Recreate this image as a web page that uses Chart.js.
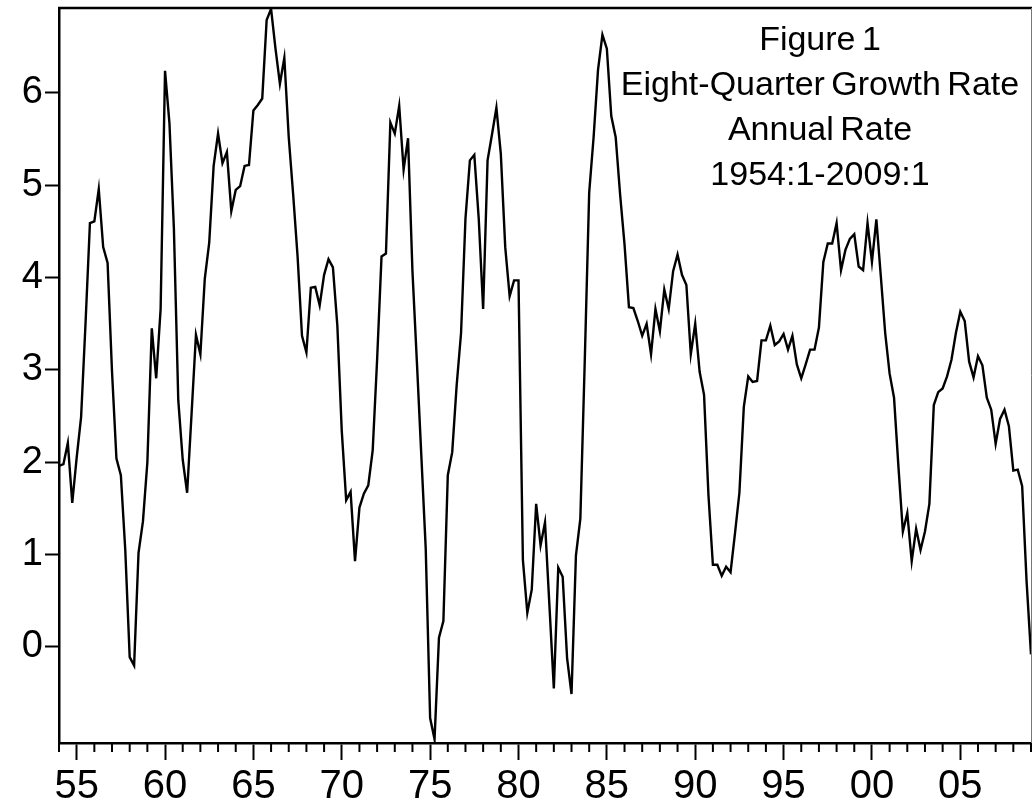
<!DOCTYPE html>
<html>
<head>
<meta charset="utf-8">
<script src="https://cdn.jsdelivr.net/npm/chart.js@4.4.0/dist/chart.umd.min.js"></script>
<style>
  html, body { margin: 0; padding: 0; background: #fff; }
  #growth_chart { display: block; }
</style>
</head>
<body>
<canvas id="growth_chart" width="1033" height="807"></canvas>
<script>
// quarterly data, 1954:1 - 2009:1 (eight-quarter growth, annual rate)
var start_year = 1954;
var growth_50s = [1.96, 1.98, 2.21, 1.56, 2.05, 2.49, 3.50, 4.59, 4.61, 4.96, 4.33, 4.16,
                  2.98, 2.04, 1.86, 1.05, -0.11, -0.20, 1.02, 1.36, 2.00, 3.45, 2.91, 3.66];
var growth_60s = [6.24, 5.67, 4.54, 2.67, 2.03, 1.67, 2.52, 3.38, 3.17, 3.99, 4.38, 5.21,
                  5.56, 5.24, 5.36, 4.72, 4.95, 4.99, 5.21, 5.22, 5.81, 5.87, 5.94, 6.79,
                  6.91, 6.48, 6.10, 6.38, 5.52, 4.90, 4.23, 3.37, 3.19, 3.89, 3.90, 3.70,
                  4.03, 4.20, 4.11, 3.48];
var growth_70s = [2.34, 1.59, 1.68, 0.93, 1.51, 1.66, 1.75, 2.13, 3.11, 4.23, 4.26, 5.68,
                  5.56, 5.86, 5.17, 5.51, 4.07, 3.09, 2.08, 1.07, -0.77, -1.00, 0.10, 0.28,
                  1.86, 2.11, 2.83, 3.40, 4.64, 5.27, 5.33, 4.64, 3.66, 5.27, 5.55, 5.84,
                  5.34, 4.33, 3.80, 3.97];
var growth_80s = [3.97, 0.94, 0.37, 0.62, 1.55, 1.10, 1.35, 0.45, -0.45, 0.86, 0.76, -0.12,
                  -0.51, 0.99, 1.39, 3.10, 4.92, 5.52, 6.25, 6.63, 6.48, 5.75, 5.52, 4.90,
                  4.36, 3.68, 3.67, 3.53, 3.37, 3.50, 3.17, 3.66, 3.42, 3.87, 3.66, 4.07,
                  4.25, 4.03, 3.92, 3.17];
var growth_90s = [3.50, 2.98, 2.73, 1.64, 0.89, 0.89, 0.77, 0.87, 0.81, 1.23, 1.67, 2.60,
                  2.93, 2.87, 2.88, 3.32, 3.32, 3.48, 3.27, 3.31, 3.39, 3.22, 3.37, 3.06,
                  2.91, 3.06, 3.22, 3.22, 3.46, 4.17, 4.37, 4.37, 4.59, 4.08, 4.30, 4.42,
                  4.47, 4.12, 4.08, 4.59];
var growth_00s = [4.17, 4.63, 4.02, 3.40, 2.96, 2.70, 1.95, 1.25, 1.45, 0.93, 1.28, 1.05,
                  1.25, 1.55, 2.62, 2.76, 2.80, 2.93, 3.11, 3.40, 3.63, 3.53, 3.09, 2.92,
                  3.15, 3.05, 2.70, 2.57, 2.20, 2.47, 2.57, 2.39, 1.91, 1.92, 1.74, 0.71,
                  -0.08];

var label_years = [1955, 1960, 1965, 1970, 1975, 1980, 1985, 1990, 1995, 2000, 2005];
var year_labels = ["55", "60", "65", "70", "75", "80", "85", "90", "95", "00", "05"];
var y_ticks = [0, 1, 2, 3, 4, 5, 6];
var title_lines = ["Figure 1", "Eight-Quarter Growth Rate", "Annual Rate", "1954:1-2009:1"];

var growth_rate = growth_50s.concat(growth_60s, growth_70s, growth_80s, growth_90s, growth_00s);
var growth_points = growth_rate.map(function(v, i) {
    return { x: start_year + i / 4, y: v };
});

var font_family = "'Liberation Sans', Arial, Helvetica, sans-serif";

// frame, minor year ticks and the text box
var frame_plugin = {
    id: "frame_plugin",
    afterDraw: function(chart) {
        var ctx = chart.ctx;
        var area = chart.chartArea;
        var xs = chart.scales.x;
        ctx.save();
        // top border
        ctx.strokeStyle = "#000";
        ctx.lineWidth = 2.5;
        ctx.beginPath();
        ctx.moveTo(area.left - 1, area.top);
        ctx.lineTo(area.right + 1, area.top);
        ctx.stroke();
        // right border
        ctx.strokeStyle = "#777";
        ctx.lineWidth = 1;
        ctx.beginPath();
        ctx.moveTo(area.right + 0.5, area.top);
        ctx.lineTo(area.right + 0.5, area.bottom);
        ctx.stroke();
        // minor ticks for every year
        ctx.strokeStyle = "#000";
        ctx.lineWidth = 2;
        for (var yr = start_year; yr <= 2009; yr++) {
            if (label_years.indexOf(yr) >= 0) continue;
            var px = xs.getPixelForValue(yr);
            ctx.beginPath();
            ctx.moveTo(px, area.bottom);
            ctx.lineTo(px, area.bottom + 9);
            ctx.stroke();
        }
        // title lines
        ctx.fillStyle = "#000";
        ctx.font = "34px " + font_family;
        ctx.wordSpacing = "-3px";
        ctx.textAlign = "center";
        ctx.textBaseline = "alphabetic";
        for (var k = 0; k < title_lines.length; k++) {
            ctx.fillText(title_lines[k], 820, 50 + k * 45);
        }
        ctx.restore();
    }
};

var growth_chart = new Chart(document.getElementById("growth_chart").getContext("2d"), {
    type: "line",
    data: {
        datasets: [{
            label: "Eight-Quarter Growth Rate",
            data: growth_points,
            borderColor: "#000",
            borderWidth: 2.4,
            pointRadius: 0,
            tension: 0,
            fill: false
        }]
    },
    options: {
        responsive: false,
        animation: false,
        layout: { padding: { top: 8, right: 2, left: 0, bottom: 0 } },
        plugins: {
            legend: { display: false },
            tooltip: { enabled: false },
            title: { display: false }
        },
        scales: {
            x: {
                type: "linear",
                min: 1954,
                max: 2009,
                afterBuildTicks: function(scale) {
                    scale.ticks = label_years.map(function(v) { return { value: v }; });
                },
                afterFit: function(scale) {
                    scale.height = 64;
                    scale.paddingLeft = 0;
                    scale.paddingRight = 0;
                },
                ticks: {
                    autoSkip: false,
                    maxRotation: 0,
                    padding: 3,
                    color: "#000",
                    font: { family: font_family, size: 40 },
                    callback: function(value, index) { return year_labels[index]; }
                },
                grid: {
                    drawOnChartArea: false,
                    drawTicks: true,
                    tickLength: 17,
                    tickWidth: 2,
                    tickColor: "#000"
                },
                border: { display: true, color: "#000", width: 2.5 }
            },
            y: {
                min: -1.04,
                max: 6.92,
                afterBuildTicks: function(scale) {
                    scale.ticks = y_ticks.map(function(v) { return { value: v }; });
                },
                afterFit: function(scale) {
                    scale.width = 59;
                    scale.paddingTop = 0;
                    scale.paddingBottom = 0;
                },
                ticks: {
                    padding: 2,
                    color: "#000",
                    font: { family: font_family, size: 38 }
                },
                grid: {
                    drawOnChartArea: false,
                    drawTicks: true,
                    tickLength: 14,
                    tickWidth: 2,
                    tickColor: "#000"
                },
                border: { display: true, color: "#000", width: 2.5 }
            }
        }
    },
    plugins: [frame_plugin]
});
</script>
</body>
</html>
